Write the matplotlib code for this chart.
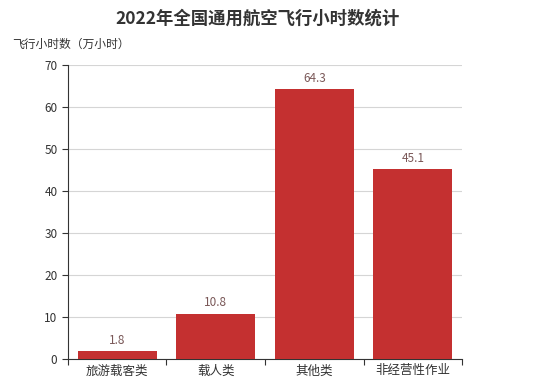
import numpy as np
import matplotlib.pyplot as plt

plt.rcParams['font.family'] = ['Noto Sans CJK SC', 'DejaVu Sans']

# Data
categories = ["旅游载客类", "载人类", "其他类", "非经营性作业"]
hours = [1.8, 10.8, 64.3, 45.1]
y_ticks = [0, 10, 20, 30, 40, 50, 60, 70]

bar_color = "#c43030"
label_color = "#7a5858"
axis_color = "#333333"

fig = plt.figure(figsize=(5.43, 3.88), dpi=100)
ax = fig.add_axes([0.125, 0.075, 0.726, 0.758])

x = np.arange(len(categories))
ax.bar(x, hours, width=0.8, color=bar_color, zorder=3)
for xi, v in zip(x, hours):
    ax.text(xi, v + 1.0, f"{v}", ha='center', va='bottom',
            fontsize=8.5, color=label_color, zorder=4)

ax.set_xlim(-0.5, len(categories) - 0.5)
ax.set_ylim(0, 70)
ax.set_yticks(y_ticks)
ax.tick_params(axis='y', labelsize=8.5, colors=axis_color, length=4, width=0.8)
ax.yaxis.grid(True, color='#d5d5d5', linewidth=0.8, zorder=0)

# category ticks between bars, labels centred on bars
ax.set_xticks(np.arange(-0.5, len(categories)), minor=False)
ax.set_xticklabels([])
ax.set_xticks(x, minor=True)
ax.set_xticklabels(categories, minor=True)
ax.tick_params(axis='x', which='major', length=4, width=0.8, colors=axis_color)
ax.tick_params(axis='x', which='minor', length=0, labelsize=9, colors=axis_color, pad=4)

for s in ['top', 'right']:
    ax.spines[s].set_visible(False)
for s in ['left', 'bottom']:
    ax.spines[s].set_color(axis_color)
    ax.spines[s].set_linewidth(0.8)

fig.text(0.475, 0.953, "2022年全国通用航空飞行小时数统计", ha='center', va='center',
         fontsize=12.5, fontweight='bold', color='#333333')
fig.text(0.022, 0.885, "飞行小时数（万小时）", ha='left', va='center',
         fontsize=8.5, color='#333333')

fig.savefig("out.png", dpi=100)
